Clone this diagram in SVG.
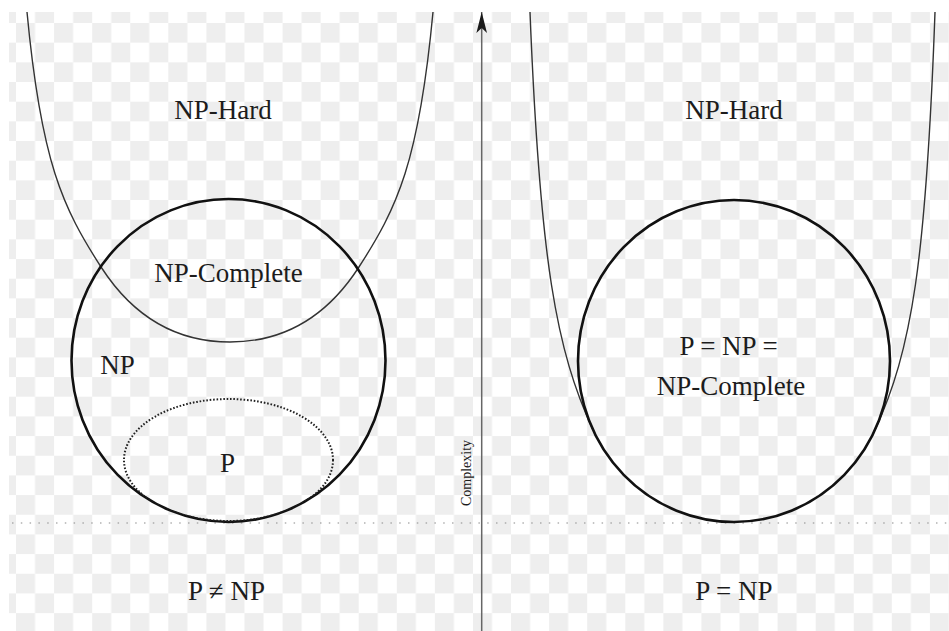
<svg xmlns="http://www.w3.org/2000/svg" width="949" height="631" viewBox="0 0 949 631">
  <defs>
    <pattern id="checker" patternUnits="userSpaceOnUse" x="16" y="23" width="38.08" height="39.34">
      <rect x="0" y="0" width="19.04" height="19.67" fill="#eeeeee"/>
      <rect x="19.04" y="19.67" width="19.04" height="19.67" fill="#eeeeee"/>
    </pattern>
    <clipPath id="leftCircleClip">
      <ellipse cx="228.5" cy="360.5" rx="157" ry="161.5"/>
    </clipPath>
    <marker id="arrowHead" markerUnits="userSpaceOnUse" viewBox="0 0 21 10.6" refX="21" refY="5.3" markerWidth="21" markerHeight="10.6" orient="auto">
      <path d="M0,0 L21,5.3 L0,10.6 L5,5.3 Z" fill="#1a1a1a"/>
    </marker>
    <style>
      .label { font-size: 27px; fill: #1c1c1c; text-anchor: middle; }
      .small { font-size: 14px; fill: #1c1c1c; text-anchor: middle; }
      .set { fill: none; stroke: #111; stroke-width: 2.6; }
      .hard { fill: none; stroke: #333; stroke-width: 1.4; }
      .dotted { fill: none; stroke: #222; stroke-width: 2; stroke-dasharray: 1.6 1.8; }
    </style>
  </defs>

  <g id="background">
    <rect x="0" y="0" width="949" height="631" fill="#ffffff"/>
    <rect x="9" y="12" width="940" height="619" fill="url(#checker)"/>
  </g>

  <g id="connectors">
    <line x1="12" y1="523" x2="949" y2="523" stroke="#8a8a8a" stroke-width="1.2" stroke-dasharray="1.5 7.3"/>
    <line id="complexity-axis" x1="481.7" y1="631" x2="481.7" y2="12" stroke="#666" stroke-width="1.5" marker-end="url(#arrowHead)"/>
    <text class="small" font-family="Liberation Serif, DejaVu Serif, serif" transform="translate(471,473) rotate(-90)">Complexity</text>
  </g>

  <g font-family="Liberation Serif, DejaVu Serif, serif">
    <!-- Left: P != NP -->
    <g id="np-hard-left">
      <path class="hard" d="M27,12 C41.1,162 62.7,208 101.7,268 C118,293 155,342 230,342 C305,342 342,293 358.3,268 C397.3,208 418.9,162 433,12"/>
      <text class="label" x="223" y="119">NP-Hard</text>
    </g>

    <g id="np-left">
      <ellipse class="set" cx="228.5" cy="360.5" rx="157" ry="161.5"/>
      <text class="label" x="117.5" y="374">NP</text>
    </g>

    <g id="np-complete-left">
      <text class="label" x="228.5" y="282">NP-Complete</text>
    </g>

    <g id="p-left">
      <ellipse class="dotted" cx="228.5" cy="460" rx="104.5" ry="61" clip-path="url(#leftCircleClip)"/>
      <text class="label" x="227.5" y="472">P</text>
    </g>

    <g id="caption-left">
      <text class="label" x="226.5" y="600">P ≠ NP</text>
    </g>

    <!-- Right: P = NP -->
    <g id="np-hard-right">
      <path class="hard" d="M530,12 C540,262 556.2,350 593,430"/>
      <path class="hard" d="M935,12 C926,262 911.8,350 875,430"/>
      <text class="label" x="734" y="119">NP-Hard</text>
    </g>

    <g id="p-np-npc-right">
      <ellipse class="set" cx="734" cy="361" rx="156" ry="161"/>
      <text class="label" x="728.5" y="355">P = NP =</text>
      <text class="label" x="731" y="395">NP-Complete</text>
    </g>

    <g id="caption-right">
      <text class="label" x="734" y="600">P = NP</text>
    </g>
  </g>
</svg>
